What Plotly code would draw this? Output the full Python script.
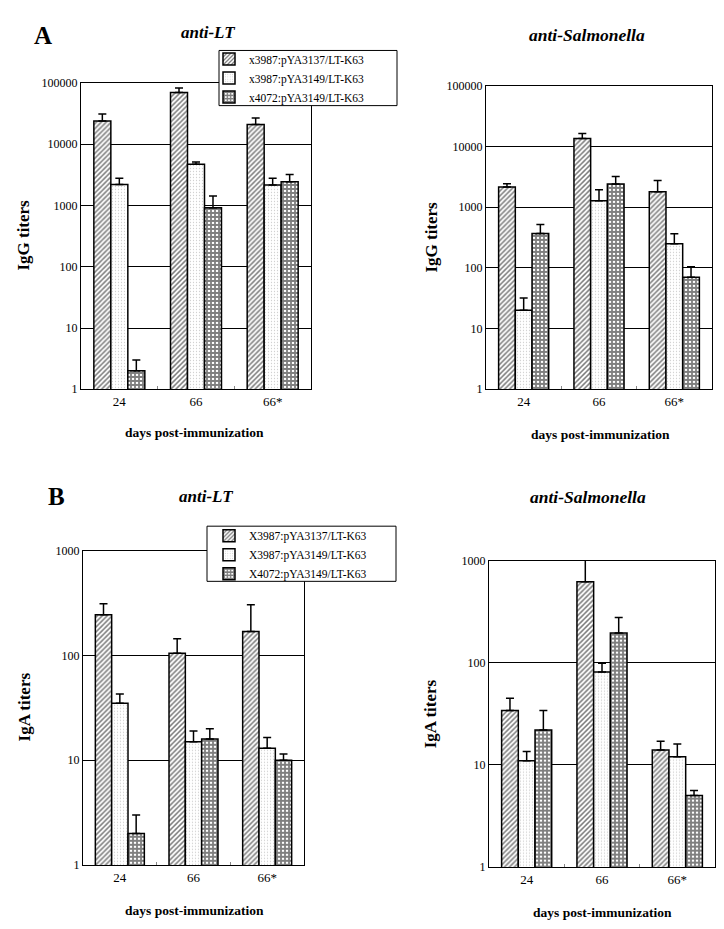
import plotly.graph_objects as go

W, H = 724, 929

categories = ["24", "66", "66*"]
names_a = ["x3987:pYA3137/LT-K63", "x3987:pYA3149/LT-K63", "x4072:pYA3149/LT-K63"]
names_b = ["X3987:pYA3137/LT-K63", "X3987:pYA3149/LT-K63", "X4072:pYA3149/LT-K63"]

# Panel A - IgG anti-LT (mean, upper error)
igg_lt_s1 = [24000, 70000, 21000]
igg_lt_s1_up = [31000, 83000, 26700]
igg_lt_s2 = [2200, 4700, 2150]
igg_lt_s2_up = [2780, 5150, 2790]
igg_lt_s3 = [2, 920, 2450]
igg_lt_s3_up = [3, 1430, 3200]

# Panel A - IgG anti-Salmonella
igg_sal_s1 = [2150, 13600, 1800]
igg_sal_s1_up = [2440, 16400, 2750]
igg_sal_s2 = [20, 1280, 250]
igg_sal_s2_up = [32, 1950, 365]
igg_sal_s3 = [370, 2410, 70]
igg_sal_s3_up = [520, 3210, 105]

# Panel B - IgA anti-LT
iga_lt_s1 = [245, 105, 170]
iga_lt_s1_up = [313, 145, 305]
iga_lt_s2 = [35, 15, 13]
iga_lt_s2_up = [43, 19, 16.5]
iga_lt_s3 = [2, 16, 10]
iga_lt_s3_up = [3, 20, 11.5]

# Panel B - IgA anti-Salmonella
iga_sal_s1 = [34, 620, 14]
iga_sal_s1_up = [45, 1020, 17]
iga_sal_s2 = [11, 81, 12]
iga_sal_s2_up = [13.5, 99, 16]
iga_sal_s3 = [22, 196, 5]
iga_sal_s3_up = [34, 277, 5.6]

SERIF = "Liberation Serif"

patterns = [
    dict(shape="/", fgcolor="black", bgcolor="white", size=3.5, solidity=0.45),
    dict(shape=".", fgcolor="#a0a0a0", bgcolor="white", size=3, solidity=0.14),
    dict(shape="+", fgcolor="black", bgcolor="white", size=4, solidity=0.7),
]

fig = go.Figure()

panels = [
    ("x", "y", [igg_lt_s1, igg_lt_s2, igg_lt_s3], [igg_lt_s1_up, igg_lt_s2_up, igg_lt_s3_up], names_a, "legend", True),
    ("x2", "y2", [igg_sal_s1, igg_sal_s2, igg_sal_s3], [igg_sal_s1_up, igg_sal_s2_up, igg_sal_s3_up], names_a, "legend", False),
    ("x3", "y3", [iga_lt_s1, iga_lt_s2, iga_lt_s3], [iga_lt_s1_up, iga_lt_s2_up, iga_lt_s3_up], names_b, "legend2", True),
    ("x4", "y4", [iga_sal_s1, iga_sal_s2, iga_sal_s3], [iga_sal_s1_up, iga_sal_s2_up, iga_sal_s3_up], names_b, "legend2", False),
]

for xa, ya, means, ups, names, leg, show in panels:
    for i in range(3):
        fig.add_trace(go.Bar(
            x=categories, y=means[i], name=names[i],
            xaxis=xa, yaxis=ya, legend=leg, showlegend=show,
            marker=dict(color="white", line=dict(color="black", width=1.5), pattern=patterns[i]),
            error_y=dict(type="data", symmetric=False,
                         array=[u - m for u, m in zip(ups[i], means[i])],
                         arrayminus=[0, 0, 0],
                         color="black", thickness=1.5, width=4),
        ))


def px(x):
    return x / W


def py(y):
    return 1 - y / H


def xaxis(d0, d1, anchor):
    return dict(domain=[px(d0), px(d1)], anchor=anchor, type="category",
                showline=True, linecolor="black", linewidth=1.2, mirror=True,
                showgrid=False, ticks="inside", tickson="boundaries", ticklen=3,
                tickcolor="#888", tickfont=dict(family=SERIF, size=13, color="black"),
                fixedrange=True)


def yaxis(d0, d1, anchor, decades):
    vals = [10 ** k for k in range(decades + 1)]
    return dict(domain=[py(d1), py(d0)], anchor=anchor, type="log", range=[0, decades],
                tickvals=vals, ticktext=[str(v) for v in vals],
                showline=True, linecolor="black", linewidth=1.2, mirror=True,
                showgrid=True, gridcolor="black", gridwidth=1, ticks="",
                tickfont=dict(family=SERIF, size=12, color="black"), zeroline=False)


fig.update_layout(
    width=W, height=H, margin=dict(l=0, r=0, t=0, b=0),
    paper_bgcolor="white", plot_bgcolor="white",
    barmode="group", bargap=0.335, bargroupgap=0,
    font=dict(family=SERIF, color="black"),
    xaxis=xaxis(73, 303, "y"), yaxis=yaxis(69, 380, "x", 5),
    xaxis2=xaxis(478, 704, "y2"), yaxis2=yaxis(72, 380, "x2", 5),
    xaxis3=xaxis(75, 296, "y3"), yaxis3=yaxis(544, 863, "x3", 3),
    xaxis4=xaxis(481, 707, "y4"), yaxis4=yaxis(554, 865, "x4", 3),
    legend=dict(x=px(201), y=py(30), xanchor="left", yanchor="top",
                bgcolor="rgba(0,0,0,0)", borderwidth=0,
                font=dict(family=SERIF, size=11.5, color="black"),
                itemwidth=30, tracegroupgap=0),
    legend2=dict(x=px(201), y=py(514), xanchor="left", yanchor="top",
                 bgcolor="rgba(0,0,0,0)", borderwidth=0,
                 font=dict(family=SERIF, size=11.5, color="black"),
                 itemwidth=30, tracegroupgap=0),
    showlegend=True,
)

# legend boxes
fig.add_shape(type="rect", xref="paper", yref="paper", x0=px(211), x1=px(389), y0=py(92), y1=py(36),
              line=dict(color="black", width=1), fillcolor="white", layer="above")
fig.add_shape(type="rect", xref="paper", yref="paper", x0=px(199), x1=px(388), y0=py(575), y1=py(519),
              line=dict(color="black", width=1), fillcolor="white", layer="above")

ann = []


def text(x, y, t, size, angle=0):
    ann.append(dict(x=px(x), y=py(y), xref="paper", yref="paper", text=t, showarrow=False,
                    xanchor="center", yanchor="middle", textangle=angle,
                    font=dict(family=SERIF, size=size, color="black")))


text(35, 21, "<b>A</b>", 25)
text(200, 18, "<b><i>anti-LT</i></b>", 17)
text(579, 20, "<b><i>anti-Salmonella</i></b>", 17.5)
text(49, 489, "<b>B</b>", 25)
text(198, 489, "<b><i>anti-LT</i></b>", 17)
text(580, 489, "<b><i>anti-Salmonella</i></b>", 17.5)

text(16, 224, "<b>IgG titers</b>", 17, -90)
text(424, 225, "<b>IgG titers</b>", 17, -90)
text(16, 703, "<b>IgA titers</b>", 17, -90)
text(422, 710, "<b>IgA titers</b>", 17, -90)

text(186, 424, "<b>days post-immunization</b>", 13.5)
text(592, 426, "<b>days post-immunization</b>", 13.5)
text(186, 909, "<b>days post-immunization</b>", 13.5)
text(594, 911, "<b>days post-immunization</b>", 13.5)

fig.update_layout(annotations=ann)

fig.write_html("out.html")
